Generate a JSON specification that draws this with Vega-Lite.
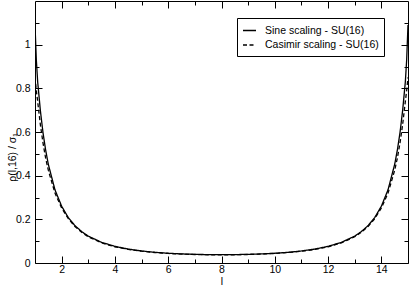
{
  "$schema": "https://vega.github.io/schema/vega-lite/v6.json",
  "width": 373,
  "height": 262,
  "autosize": "none",
  "padding": {"left": 35, "top": 1, "right": 1, "bottom": 22},
  "background": "white",
  "config": {
    "view": {"stroke": null},
    "font": "Liberation Sans",
    "axis": {
      "grid": false,
      "domainColor": "black",
      "tickColor": "black",
      "labelColor": "black",
      "titleColor": "black",
      "labelFont": "Liberation Sans",
      "titleFont": "Liberation Sans",
      "labelFontSize": 10.5,
      "titleFontSize": 10.5,
      "titleFontWeight": "normal",
      "tickWidth": 1,
      "domainWidth": 1
    }
  },
  "data": {
    "values": [
      {"l": 1, "v": 1.09, "s": "Sine scaling - SU(16)"},
      {"l": 1.05, "v": 0.93, "s": "Sine scaling - SU(16)"},
      {"l": 1.1, "v": 0.83, "s": "Sine scaling - SU(16)"},
      {"l": 1.2, "v": 0.70, "s": "Sine scaling - SU(16)"},
      {"l": 1.3, "v": 0.597, "s": "Sine scaling - SU(16)"},
      {"l": 1.4, "v": 0.517, "s": "Sine scaling - SU(16)"},
      {"l": 1.5, "v": 0.452, "s": "Sine scaling - SU(16)"},
      {"l": 1.75, "v": 0.335, "s": "Sine scaling - SU(16)"},
      {"l": 2, "v": 0.26, "s": "Sine scaling - SU(16)"},
      {"l": 2.25, "v": 0.208, "s": "Sine scaling - SU(16)"},
      {"l": 2.5, "v": 0.171, "s": "Sine scaling - SU(16)"},
      {"l": 2.75, "v": 0.144, "s": "Sine scaling - SU(16)"},
      {"l": 3, "v": 0.123, "s": "Sine scaling - SU(16)"},
      {"l": 3.5, "v": 0.0946, "s": "Sine scaling - SU(16)"},
      {"l": 4, "v": 0.0761, "s": "Sine scaling - SU(16)"},
      {"l": 4.5, "v": 0.0637, "s": "Sine scaling - SU(16)"},
      {"l": 5, "v": 0.0551, "s": "Sine scaling - SU(16)"},
      {"l": 5.5, "v": 0.0489, "s": "Sine scaling - SU(16)"},
      {"l": 6, "v": 0.0446, "s": "Sine scaling - SU(16)"},
      {"l": 6.5, "v": 0.0416, "s": "Sine scaling - SU(16)"},
      {"l": 7, "v": 0.0396, "s": "Sine scaling - SU(16)"},
      {"l": 7.5, "v": 0.0384, "s": "Sine scaling - SU(16)"},
      {"l": 8, "v": 0.0381, "s": "Sine scaling - SU(16)"},
      {"l": 8.5, "v": 0.0384, "s": "Sine scaling - SU(16)"},
      {"l": 9, "v": 0.0396, "s": "Sine scaling - SU(16)"},
      {"l": 9.5, "v": 0.0416, "s": "Sine scaling - SU(16)"},
      {"l": 10, "v": 0.0446, "s": "Sine scaling - SU(16)"},
      {"l": 10.5, "v": 0.0489, "s": "Sine scaling - SU(16)"},
      {"l": 11, "v": 0.0551, "s": "Sine scaling - SU(16)"},
      {"l": 11.5, "v": 0.0637, "s": "Sine scaling - SU(16)"},
      {"l": 12, "v": 0.0761, "s": "Sine scaling - SU(16)"},
      {"l": 12.5, "v": 0.0946, "s": "Sine scaling - SU(16)"},
      {"l": 13, "v": 0.123, "s": "Sine scaling - SU(16)"},
      {"l": 13.25, "v": 0.144, "s": "Sine scaling - SU(16)"},
      {"l": 13.5, "v": 0.171, "s": "Sine scaling - SU(16)"},
      {"l": 13.75, "v": 0.208, "s": "Sine scaling - SU(16)"},
      {"l": 14, "v": 0.26, "s": "Sine scaling - SU(16)"},
      {"l": 14.25, "v": 0.335, "s": "Sine scaling - SU(16)"},
      {"l": 14.5, "v": 0.452, "s": "Sine scaling - SU(16)"},
      {"l": 14.6, "v": 0.517, "s": "Sine scaling - SU(16)"},
      {"l": 14.7, "v": 0.597, "s": "Sine scaling - SU(16)"},
      {"l": 14.8, "v": 0.70, "s": "Sine scaling - SU(16)"},
      {"l": 14.9, "v": 0.83, "s": "Sine scaling - SU(16)"},
      {"l": 14.95, "v": 0.93, "s": "Sine scaling - SU(16)"},
      {"l": 15, "v": 1.09, "s": "Sine scaling - SU(16)"},
      {"l": 1, "v": 0.85, "s": "Casimir scaling - SU(16)"},
      {"l": 1.05, "v": 0.79, "s": "Casimir scaling - SU(16)"},
      {"l": 1.1, "v": 0.74, "s": "Casimir scaling - SU(16)"},
      {"l": 1.2, "v": 0.635, "s": "Casimir scaling - SU(16)"},
      {"l": 1.3, "v": 0.55, "s": "Casimir scaling - SU(16)"},
      {"l": 1.4, "v": 0.48, "s": "Casimir scaling - SU(16)"},
      {"l": 1.5, "v": 0.425, "s": "Casimir scaling - SU(16)"},
      {"l": 1.75, "v": 0.32, "s": "Casimir scaling - SU(16)"},
      {"l": 2, "v": 0.252, "s": "Casimir scaling - SU(16)"},
      {"l": 2.25, "v": 0.203, "s": "Casimir scaling - SU(16)"},
      {"l": 2.5, "v": 0.167, "s": "Casimir scaling - SU(16)"},
      {"l": 2.75, "v": 0.141, "s": "Casimir scaling - SU(16)"},
      {"l": 3, "v": 0.12, "s": "Casimir scaling - SU(16)"},
      {"l": 3.5, "v": 0.092, "s": "Casimir scaling - SU(16)"},
      {"l": 4, "v": 0.074, "s": "Casimir scaling - SU(16)"},
      {"l": 4.5, "v": 0.062, "s": "Casimir scaling - SU(16)"},
      {"l": 5, "v": 0.054, "s": "Casimir scaling - SU(16)"},
      {"l": 5.5, "v": 0.048, "s": "Casimir scaling - SU(16)"},
      {"l": 6, "v": 0.0437, "s": "Casimir scaling - SU(16)"},
      {"l": 6.5, "v": 0.041, "s": "Casimir scaling - SU(16)"},
      {"l": 7, "v": 0.039, "s": "Casimir scaling - SU(16)"},
      {"l": 7.5, "v": 0.0378, "s": "Casimir scaling - SU(16)"},
      {"l": 8, "v": 0.0375, "s": "Casimir scaling - SU(16)"},
      {"l": 8.5, "v": 0.0378, "s": "Casimir scaling - SU(16)"},
      {"l": 9, "v": 0.039, "s": "Casimir scaling - SU(16)"},
      {"l": 9.5, "v": 0.041, "s": "Casimir scaling - SU(16)"},
      {"l": 10, "v": 0.0437, "s": "Casimir scaling - SU(16)"},
      {"l": 10.5, "v": 0.048, "s": "Casimir scaling - SU(16)"},
      {"l": 11, "v": 0.054, "s": "Casimir scaling - SU(16)"},
      {"l": 11.5, "v": 0.062, "s": "Casimir scaling - SU(16)"},
      {"l": 12, "v": 0.074, "s": "Casimir scaling - SU(16)"},
      {"l": 12.5, "v": 0.092, "s": "Casimir scaling - SU(16)"},
      {"l": 13, "v": 0.12, "s": "Casimir scaling - SU(16)"},
      {"l": 13.25, "v": 0.141, "s": "Casimir scaling - SU(16)"},
      {"l": 13.5, "v": 0.167, "s": "Casimir scaling - SU(16)"},
      {"l": 13.75, "v": 0.203, "s": "Casimir scaling - SU(16)"},
      {"l": 14, "v": 0.252, "s": "Casimir scaling - SU(16)"},
      {"l": 14.25, "v": 0.32, "s": "Casimir scaling - SU(16)"},
      {"l": 14.5, "v": 0.425, "s": "Casimir scaling - SU(16)"},
      {"l": 14.6, "v": 0.48, "s": "Casimir scaling - SU(16)"},
      {"l": 14.7, "v": 0.55, "s": "Casimir scaling - SU(16)"},
      {"l": 14.8, "v": 0.635, "s": "Casimir scaling - SU(16)"},
      {"l": 14.9, "v": 0.74, "s": "Casimir scaling - SU(16)"},
      {"l": 14.95, "v": 0.79, "s": "Casimir scaling - SU(16)"},
      {"l": 15, "v": 0.85, "s": "Casimir scaling - SU(16)"}
    ]
  },
  "layer": [
    {
      "mark": {"type": "line", "color": "black", "strokeWidth": 1.3, "clip": true},
      "encoding": {
        "x": {
          "field": "l", "type": "quantitative",
          "scale": {"domain": [1, 15], "nice": false, "zero": false},
          "axis": {
            "orient": "bottom",
            "title": "l",
            "values": [2, 3, 4, 5, 6, 7, 8, 9, 10, 11, 12, 13, 14],
            "labelExpr": "datum.value % 2 == 0 ? '' + datum.value : ''",
            "tickSize": {"condition": {"test": "datum.value % 2 == 1", "value": -4}, "value": -7},
            "labelPadding": 8,
            "titleY": 13,
            "titleBaseline": "top"
          }
        },
        "y": {
          "field": "v", "type": "quantitative",
          "scale": {"domain": [0, 1.2], "nice": false, "zero": true},
          "axis": {
            "orient": "left",
            "title": "ρ(l,16) / σ₁",
            "values": [0, 0.1, 0.2, 0.3, 0.4, 0.5, 0.6, 0.7, 0.8, 0.9, 1, 1.1],
            "labelExpr": "round(datum.value * 10) % 2 == 0 ? '' + datum.value : ''",
            "tickSize": {"condition": {"test": "round(datum.value * 10) % 2 == 1", "value": -4}, "value": -7},
            "labelPadding": 12,
            "titleY": 156,
            "titleX": -23,
            "titleBaseline": "middle"
          }
        },
        "strokeDash": {
          "field": "s", "type": "nominal",
          "scale": {
            "domain": ["Sine scaling - SU(16)", "Casimir scaling - SU(16)"],
            "range": [[1, 0], [4, 2.5]]
          },
          "legend": {
            "orient": "none",
            "legendX": 202,
            "legendY": 17,
            "title": null,
            "strokeColor": "black",
            "fillColor": "white",
            "padding": 5,
            "symbolType": "stroke",
            "symbolStrokeColor": "black",
            "symbolStrokeWidth": 1.3,
            "symbolSize": 169,
            "labelFontSize": 10.5,
            "labelFont": "Liberation Sans",
            "labelColor": "black",
            "labelOffset": 8,
            "rowPadding": 1.5,
            "cornerRadius": 0
          }
        }
      }
    },
    {
      "mark": {"type": "point", "opacity": 0},
      "encoding": {
        "x": {
          "field": "l", "type": "quantitative",
          "axis": {
            "orient": "top",
            "title": null,
            "labels": false,
            "values": [2, 3, 4, 5, 6, 7, 8, 9, 10, 11, 12, 13, 14],
            "tickSize": {"condition": {"test": "datum.value % 2 == 1", "value": -4}, "value": -7}
          }
        },
        "y": {
          "field": "v", "type": "quantitative",
          "axis": {
            "orient": "right",
            "title": null,
            "labels": false,
            "values": [0, 0.1, 0.2, 0.3, 0.4, 0.5, 0.6, 0.7, 0.8, 0.9, 1, 1.1],
            "tickSize": {"condition": {"test": "round(datum.value * 10) % 2 == 1", "value": -4}, "value": -7}
          }
        }
      }
    }
  ],
  "resolve": {"axis": {"x": "independent", "y": "independent"}}
}
